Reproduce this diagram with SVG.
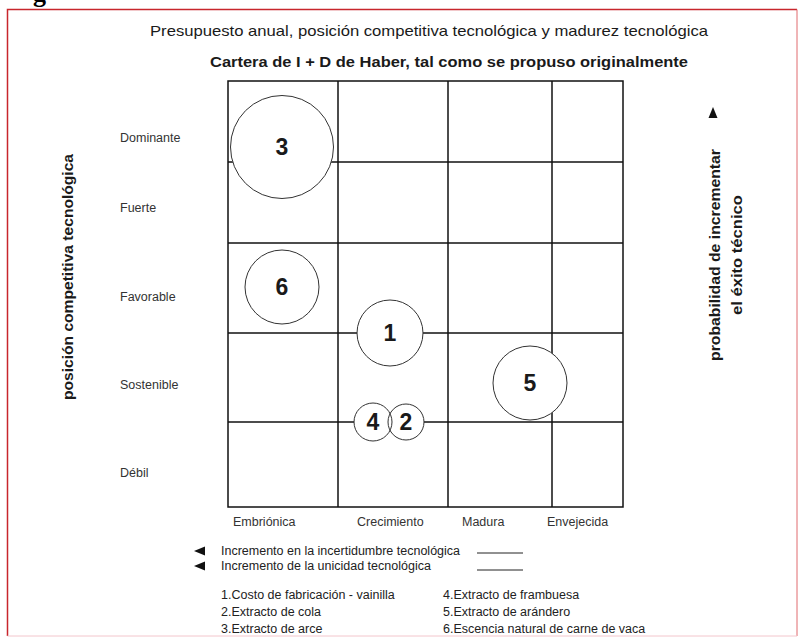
<svg xmlns="http://www.w3.org/2000/svg" width="800" height="638" viewBox="0 0 800 638">
  <defs>
    <style>
      text { font-family: "Liberation Sans", Arial, sans-serif; fill: #1a1a1a; }
      .title { font-size: 14.5px; }
      .sub { font-size: 14px; font-weight: bold; }
      .lbl { font-size: 12.5px; fill: #333; }
      .axis { font-size: 14px; font-weight: bold; }
      .num { font-size: 23px; font-weight: bold; text-anchor: middle; }
      .grid { stroke: #111; stroke-width: 1.5; fill: none; }
      .bubble { fill: #fff; stroke: #333; stroke-width: 1; }
      .leg { font-size: 12.5px; fill: #222; }
    </style>
  </defs>
  <rect x="0" y="0" width="800" height="638" fill="#fff"/>

  <!-- page frame -->
  <text x="33" y="2" style="font-family:'Liberation Serif',serif;font-size:26px;font-weight:bold;fill:#000">g</text>
  <path d="M7.5 636 V9.5 H797" fill="none" stroke="#c8262c" stroke-width="1.5"/>
  <path d="M797 9.5 V636" fill="none" stroke="#e06a6e" stroke-width="1"/>
  <path d="M7.5 636 H797" fill="none" stroke="#f3c6cc" stroke-width="1"/>

  <!-- titles -->
  <text class="title" x="150" y="36" textLength="558" lengthAdjust="spacingAndGlyphs">Presupuesto anual, posición competitiva tecnológica y madurez tecnológica</text>
  <text class="sub" x="210" y="67" textLength="478" lengthAdjust="spacingAndGlyphs">Cartera de I + D  de Haber, tal como se propuso originalmente</text>

  <!-- grid -->
  <g id="grid">
    <rect class="grid" x="228" y="81" width="395" height="426"/>
    <line class="grid" x1="338" y1="81" x2="338" y2="507"/>
    <line class="grid" x1="448" y1="81" x2="448" y2="507"/>
    <line class="grid" x1="552" y1="81" x2="552" y2="507"/>
    <line class="grid" x1="228" y1="162" x2="623" y2="162"/>
    <line class="grid" x1="228" y1="243" x2="623" y2="243"/>
    <line class="grid" x1="228" y1="333" x2="623" y2="333"/>
    <line class="grid" x1="228" y1="422" x2="623" y2="422"/>
  </g>

  <!-- row labels -->
  <g id="rows">
    <text class="lbl" x="120" y="142">Dominante</text>
    <text class="lbl" x="120" y="212">Fuerte</text>
    <text class="lbl" x="120" y="301">Favorable</text>
    <text class="lbl" x="120" y="389">Sostenible</text>
    <text class="lbl" x="120" y="477">Débil</text>
  </g>

  <!-- column labels -->
  <g id="cols">
    <text class="lbl" x="233" y="526">Embriónica</text>
    <text class="lbl" x="357" y="526">Crecimiento</text>
    <text class="lbl" x="462" y="526">Madura</text>
    <text class="lbl" x="547" y="526">Envejecida</text>
  </g>

  <!-- vertical axis titles -->
  <text class="axis" transform="translate(73 277) rotate(-90)" text-anchor="middle" textLength="246" lengthAdjust="spacingAndGlyphs">posición competitiva tecnológica</text>
  <g id="right-axis">
    <polygon points="713,107 717.5,118 708.5,118" fill="#111"/>
    <text class="axis" transform="translate(720 255) rotate(-90)" text-anchor="middle" textLength="212" lengthAdjust="spacingAndGlyphs">probabilidad de incrementar</text>
    <text class="axis" transform="translate(742 255) rotate(-90)" text-anchor="middle" textLength="120" lengthAdjust="spacingAndGlyphs">el éxito técnico</text>
  </g>

  <!-- bubbles -->
  <g id="node-3">
    <circle class="bubble" cx="282" cy="147" r="51.5"/>
    <text class="num" x="282" y="155">3</text>
  </g>
  <g id="node-6">
    <circle class="bubble" cx="282" cy="287" r="37"/>
    <text class="num" x="282" y="295">6</text>
  </g>
  <g id="node-1">
    <circle class="bubble" cx="390" cy="333" r="33"/>
    <text class="num" x="390" y="341">1</text>
  </g>
  <g id="node-5">
    <circle class="bubble" cx="530" cy="383" r="37"/>
    <text class="num" x="530" y="391">5</text>
  </g>
  <g id="node-4">
    <circle cx="373" cy="422" r="19" fill="#fff"/>
  </g>
  <g id="node-2">
    <circle cx="406" cy="422" r="18" fill="#fff"/>
    <circle cx="406" cy="422" r="18" fill="none" stroke="#333"/>
    <text class="num" x="406" y="430">2</text>
  </g>
  <g id="node-4-outline">
    <circle cx="373" cy="422" r="19" fill="none" stroke="#333"/>
    <text class="num" x="373" y="430">4</text>
  </g>

  <!-- legend -->
  <g id="legend">
    <polygon points="194,551 205,546.5 205,555.5" fill="#111"/>
    <text class="leg" x="221" y="555">Incremento en la incertidumbre tecnológica</text>
    <line x1="477" y1="553" x2="523" y2="553" stroke="#222" stroke-width="1"/>
    <polygon points="194,566 205,561.5 205,570.5" fill="#111"/>
    <text class="leg" x="221" y="570">Incremento de la unicidad tecnológica</text>
    <line x1="477" y1="570" x2="523" y2="570" stroke="#222" stroke-width="1"/>

    <text class="leg" x="221" y="599">1.Costo de fabricación - vainilla</text>
    <text class="leg" x="221" y="616">2.Extracto de cola</text>
    <text class="leg" x="221" y="633">3.Extracto de arce</text>
    <text class="leg" x="443" y="599">4.Extracto de frambuesa</text>
    <text class="leg" x="443" y="616">5.Extracto de arándero</text>
    <text class="leg" x="443" y="633">6.Escencia natural de carne de vaca</text>
  </g>
</svg>
